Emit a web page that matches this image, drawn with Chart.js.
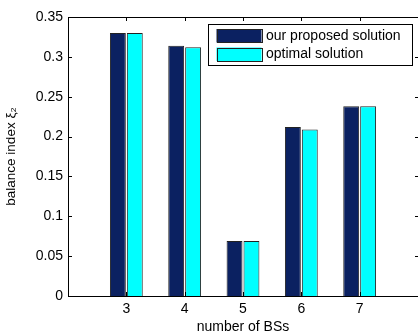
<!DOCTYPE html>
<html>
<head>
<meta charset="utf-8">
<script src="https://cdn.jsdelivr.net/npm/chart.js@4/dist/chart.umd.min.js"></script>
<style>
  html, body { margin: 0; padding: 0; overflow: hidden; background: #fff; }
  canvas { display: block; }
</style>
</head>
<body>
<canvas id="barChart" width="418" height="336"></canvas>
<script>
// axis runs from 2 to 8, only 3..7 carry bars
const bsCounts = ['2', '3', '4', '5', '6', '7', '8'];
const proposedValues = [null, 0.330, 0.314, 0.069, 0.212, 0.238, null];
const optimalValues = [null, 0.330, 0.312, 0.069, 0.209, 0.238, null];
const yTicks = [0, 0.05, 0.1, 0.15, 0.2, 0.25, 0.3, 0.35];
const seriesNames = ['our proposed solution', 'optimal solution'];

const FONT = 'Liberation Sans, Arial, sans-serif';

// MATLAB-style axes with inward ticks; the right edge of the box is cut off in the original
const boxTicks = {
    id: 'boxTicks',
    afterDatasetsDraw(chart) {
        const { ctx, chartArea: a, scales } = chart;
        const l = Math.round(a.left) + 0.5, t = Math.round(a.top) + 0.5, b = Math.round(a.bottom) + 0.5;
        ctx.save();
        ctx.strokeStyle = '#000';
        ctx.lineWidth = 1;
        ctx.beginPath();
        yTicks.forEach(v => {
            const y = Math.round(scales.y.getPixelForValue(v)) + 0.5;
            ctx.moveTo(a.left, y); ctx.lineTo(a.left + 4, y);
            ctx.moveTo(a.right, y); ctx.lineTo(a.right - 3, y);
        });
        bsCounts.forEach((c, i) => {
            if (i === 0 || i === bsCounts.length - 1) return;
            const x = Math.round(scales.x.getPixelForValue(i)) + 0.5;
            ctx.moveTo(x, a.top); ctx.lineTo(x, a.top + 4);
            ctx.moveTo(x, a.bottom); ctx.lineTo(x, a.bottom - 4);
        });
        ctx.moveTo(a.right, t); ctx.lineTo(l, t); ctx.lineTo(l, b); ctx.lineTo(a.right, b);
        ctx.stroke();
        ctx.restore();
    }
};

// legend drawn inside the plot, boxed
const boxLegend = {
    id: 'boxLegend',
    afterDraw(chart) {
        const { ctx, chartArea: a } = chart;
        const right = a.right - 6.5, top = a.top + 7;
        const w = 204, h = 41;
        const left = right - w;
        ctx.save();
        ctx.fillStyle = '#fff';
        ctx.fillRect(left, top, w, h);
        ctx.strokeStyle = '#000';
        ctx.lineWidth = 1;
        ctx.strokeRect(Math.round(left) + 0.5, Math.round(top) + 0.5, w, h);
        ctx.font = '14px ' + FONT;
        ctx.textBaseline = 'middle';
        chart.data.datasets.forEach((ds, i) => {
            const y = top + 5 + i * 18.5;
            ctx.fillStyle = ds.backgroundColor;
            ctx.fillRect(left + 9, y, 45, 13.5);
            ctx.strokeStyle = '#222';
            ctx.strokeRect(Math.round(left + 9) + 0.5, Math.round(y) + 0.5, 45, 13);
            ctx.fillStyle = '#000';
            ctx.fillText(ds.label, left + 58.5, y + 7);
        });
        ctx.restore();
    }
};

const ctx = document.getElementById('barChart').getContext('2d');

new Chart(ctx, {
    type: 'bar',
    data: {
        labels: bsCounts,
        datasets: [{
            label: seriesNames[0],
            data: proposedValues,
            backgroundColor: '#0b2161',
            borderColor: '#222',
            borderWidth: 1
        }, {
            label: seriesNames[1],
            data: optimalValues,
            backgroundColor: '#00ffff',
            borderColor: '#222',
            borderWidth: 1
        }]
    },
    options: {
        responsive: false,
        animation: false,
        layout: { padding: { top: 17, right: 0, left: 0, bottom: 0 } },
        datasets: { bar: { categoryPercentage: 0.58, barPercentage: 0.94 } },
        plugins: {
            legend: { display: false },
            tooltip: { enabled: false }
        },
        scales: {
            x: {
                offset: false,
                afterFit: s => { s.height = 40; s.paddingLeft = 0; s.paddingRight = 0; },
                grid: { display: false, drawTicks: false },
                border: { display: false },
                ticks: {
                    color: '#000',
                    font: { family: FONT, size: 14 },
                    padding: 5,
                    maxRotation: 0,
                    autoSkip: false,
                    callback: (v, i) => (i === 0 || i === bsCounts.length - 1) ? '' : bsCounts[i]
                },
                title: {
                    display: true,
                    text: 'number of BSs',
                    color: '#000',
                    font: { family: FONT, size: 14 },
                    padding: { top: 0, bottom: 0 }
                }
            },
            y: {
                min: 0,
                max: 0.35,
                afterFit: s => { s.width = 68; },
                afterBuildTicks: s => { s.ticks = yTicks.map(v => ({ value: v })); },
                grid: { display: false, drawTicks: false },
                border: { display: false },
                ticks: {
                    color: '#000',
                    font: { family: FONT, size: 14 },
                    padding: 5,
                    callback: v => String(Number(v.toFixed(2)))
                },
                title: {
                    display: true,
                    text: 'balance index ξ₂',
                    color: '#000',
                    font: { family: FONT, size: 13.5 },
                    padding: { top: 3, bottom: 0 }
                }
            }
        }
    },
    plugins: [boxTicks, boxLegend]
});
</script>
</body>
</html>
